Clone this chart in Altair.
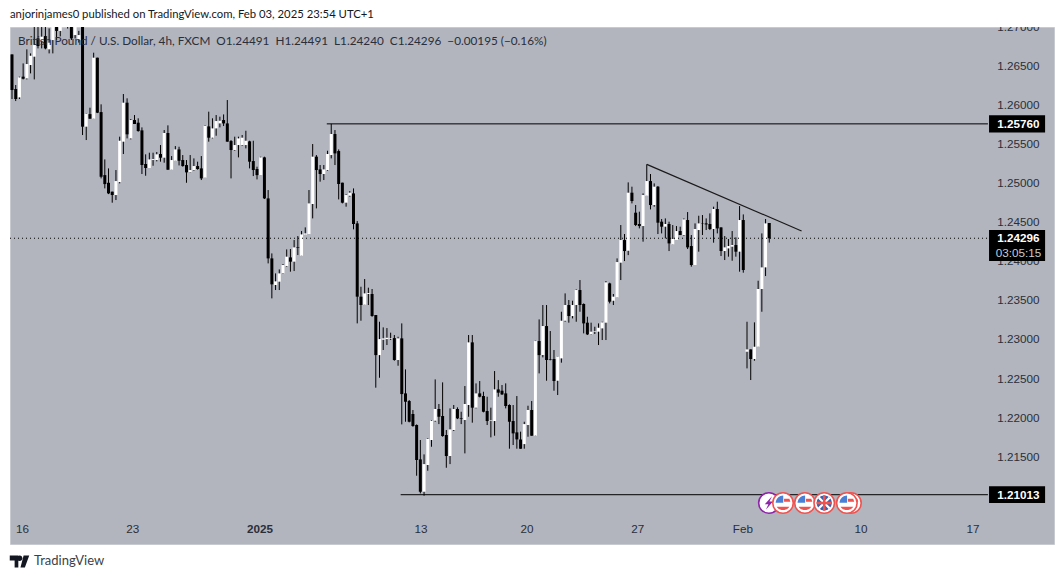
import altair as alt
import pandas as pd

# 4h GBPUSD bars (the first ones run above the top of the panel)
opens = [
    1.26649, 1.26206, 1.26099, 1.26364, 1.26342, 1.26513, 1.2662, 1.26854, 1.26824, 1.26884,
    1.26714, 1.26833, 1.2712, 1.2695, 1.2718, 1.2730, 1.2705, 1.26897, 1.26833, 1.2716,
    1.25724, 1.25885, 1.25826, 1.26607, 1.25911, 1.25104, 1.25006, 1.24892, 1.24849, 1.25015,
    1.25532, 1.26031, 1.25574, 1.25809, 1.25775, 1.25677, 1.25246, 1.25195, 1.25297, 1.25297,
    1.25374, 1.25327, 1.25643, 1.25173, 1.25288, 1.25433, 1.25297, 1.25233, 1.25143, 1.25169,
    1.2522, 1.2519, 1.25071, 1.25728, 1.25583, 1.25702, 1.25766, 1.25809, 1.25766, 1.2554,
    1.25425, 1.25489, 1.25489, 1.25489, 1.25536, 1.25284, 1.25182, 1.25104, 1.25331, 1.24806,
    1.24038, 1.23697, 1.2374, 1.23846, 1.2394, 1.24051, 1.23996, 1.24183, 1.24072, 1.24341,
    1.24349, 1.24734, 1.2534, 1.25177, 1.25118, 1.25169, 1.25361, 1.2563, 1.25412, 1.25007,
    1.24751, 1.2484, 1.2487, 1.24486, 1.23548, 1.23445, 1.23582, 1.23582, 1.23313, 1.228,
    1.22997, 1.23005, 1.2301, 1.23018, 1.22737, 1.23014, 1.2231, 1.22212, 1.22046, 1.21905,
    1.21465, 1.21051, 1.21393, 1.21713, 1.2196, 1.2211, 1.2202, 1.21777, 1.21508, 1.21841,
    1.2211, 1.2199, 1.21969, 1.22161, 1.22963, 1.22127, 1.2231, 1.22276, 1.22084, 1.21956,
    1.21956, 1.22361, 1.22344, 1.2231, 1.22161, 1.21956, 1.21811, 1.21721, 1.21661, 1.21905,
    1.22097, 1.21768, 1.2298, 1.22801, 1.23172, 1.22745, 1.2275, 1.22472, 1.22758, 1.2324,
    1.23441, 1.233, 1.23441, 1.23633, 1.23454, 1.23215, 1.23065, 1.231, 1.231, 1.23142,
    1.23215, 1.23718, 1.23496, 1.23539, 1.23983, 1.24273, 1.24136, 1.24879, 1.24623, 1.24478,
    1.24452, 1.2484, 1.25028, 1.24721, 1.24956, 1.24508, 1.24444, 1.24478, 1.24217, 1.24273,
    1.24388, 1.24337, 1.24529, 1.24196, 1.23953, 1.24401, 1.24486, 1.24486, 1.24478, 1.24414,
    1.2467, 1.24435, 1.24132, 1.24166, 1.24188, 1.24209, 1.24124, 1.24529, 1.22843, 1.22873,
    1.2275, 1.22907, 1.23646, 1.23923, 1.24491,
]
highs = [
    1.26649, 1.26257, 1.26364, 1.26534, 1.26714, 1.26662, 1.2715, 1.2715, 1.2712, 1.2718,
    1.26982, 1.2715, 1.2722, 1.2725, 1.2735, 1.2738, 1.2712, 1.2708, 1.2695, 1.2725,
    1.25894, 1.25967, 1.26671, 1.26607, 1.2601, 1.25305, 1.2519, 1.24892, 1.25169, 1.25596,
    1.26142, 1.26087, 1.25822, 1.25873, 1.25831, 1.25715, 1.2537, 1.25391, 1.25391, 1.254,
    1.25489, 1.25681, 1.25741, 1.25348, 1.25476, 1.25467, 1.25361, 1.25297, 1.25361, 1.25318,
    1.25276, 1.25348, 1.25745, 1.25916, 1.25831, 1.25873, 1.25852, 1.25881, 1.26065, 1.25553,
    1.25596, 1.25596, 1.25617, 1.25672, 1.25544, 1.25544, 1.25212, 1.2534, 1.2534, 1.24913,
    1.24102, 1.23846, 1.23897, 1.23966, 1.24153, 1.24158, 1.24273, 1.24324, 1.24388, 1.24435,
    1.24913, 1.25502, 1.25361, 1.25233, 1.25233, 1.25416, 1.2576, 1.25681, 1.25433, 1.25007,
    1.24858, 1.249, 1.24934, 1.24516, 1.23675, 1.23774, 1.23663, 1.23646, 1.23313, 1.23227,
    1.23155, 1.23146, 1.23087, 1.23057, 1.23035, 1.23206, 1.22617, 1.22225, 1.22097, 1.21913,
    1.21713, 1.21529, 1.21734, 1.21969, 1.22489, 1.22174, 1.22451, 1.21841, 1.22118, 1.22161,
    1.22131, 1.22075, 1.22404, 1.23057, 1.23057, 1.22438, 1.22468, 1.22331, 1.22267, 1.22127,
    1.22596, 1.2248, 1.22417, 1.22438, 1.2217, 1.22161, 1.22276, 1.2182, 1.21947, 1.22152,
    1.22212, 1.22984, 1.23257, 1.23441, 1.23441, 1.23108, 1.22865, 1.22779, 1.23355, 1.2359,
    1.23505, 1.23496, 1.23641, 1.23761, 1.23462, 1.23291, 1.23215, 1.23163, 1.23206, 1.23227,
    1.23748, 1.23727, 1.23582, 1.24038, 1.24465, 1.2435, 1.25011, 1.24956, 1.24721, 1.24636,
    1.2487, 1.25242, 1.25118, 1.24998, 1.24964, 1.24542, 1.2455, 1.24508, 1.24465, 1.24452,
    1.24444, 1.2455, 1.24631, 1.24337, 1.24486, 1.24584, 1.24593, 1.2455, 1.24614, 1.247,
    1.24764, 1.24435, 1.24324, 1.24286, 1.24388, 1.24307, 1.24708, 1.24601, 1.23227, 1.22873,
    1.23219, 1.23752, 1.24358, 1.24542, 1.24491,
]
lows = [
    1.26078, 1.26052, 1.26078, 1.26329, 1.26329, 1.26406, 1.26329, 1.26726, 1.26726, 1.26714,
    1.26662, 1.26662, 1.26833, 1.2688, 1.2705, 1.2698, 1.26833, 1.26854, 1.2680, 1.25617,
    1.25553, 1.25826, 1.25826, 1.25898, 1.25062, 1.24934, 1.24861, 1.24751, 1.24785, 1.24998,
    1.25374, 1.25574, 1.25561, 1.25758, 1.2566, 1.25118, 1.25096, 1.25195, 1.25224, 1.2528,
    1.25276, 1.25263, 1.25173, 1.25173, 1.25288, 1.25228, 1.25212, 1.25006, 1.25139, 1.2516,
    1.25173, 1.25041, 1.25071, 1.25532, 1.25574, 1.25608, 1.25715, 1.25732, 1.25532, 1.25062,
    1.25416, 1.25331, 1.2548, 1.25446, 1.2519, 1.25092, 1.25049, 1.25104, 1.24798, 1.23974,
    1.23526, 1.23633, 1.23633, 1.23838, 1.23932, 1.23868, 1.23876, 1.24081, 1.24072, 1.24341,
    1.24349, 1.2455, 1.24678, 1.2502, 1.25041, 1.2516, 1.25318, 1.25233, 1.24793, 1.24742,
    1.247, 1.24828, 1.2441, 1.23206, 1.2324, 1.23445, 1.23441, 1.23291, 1.22383, 1.2251,
    1.22865, 1.22929, 1.22993, 1.22728, 1.22664, 1.21913, 1.21947, 1.21939, 1.21883, 1.21256,
    1.2103, 1.21, 1.2132, 1.21627, 1.21947, 1.21917, 1.21755, 1.21358, 1.21405, 1.21828,
    1.21981, 1.21917, 1.21542, 1.22011, 1.21935, 1.22118, 1.22259, 1.22067, 1.21905, 1.21747,
    1.21768, 1.22267, 1.22289, 1.22118, 1.21602, 1.21649, 1.21602, 1.21602, 1.21602, 1.21755,
    1.21768, 1.21764, 1.22566, 1.22771, 1.22472, 1.22733, 1.22344, 1.22289, 1.22703, 1.23227,
    1.23215, 1.2327, 1.23227, 1.23355, 1.23078, 1.23057, 1.23057, 1.2307, 1.22929, 1.22993,
    1.22993, 1.23462, 1.23441, 1.23539, 1.23761, 1.24004, 1.2408, 1.24742, 1.24452, 1.24422,
    1.24252, 1.2484, 1.24665, 1.247, 1.2435, 1.24358, 1.24294, 1.24132, 1.24217, 1.24273,
    1.24337, 1.24328, 1.24158, 1.23932, 1.23953, 1.24124, 1.24337, 1.24401, 1.24401, 1.24239,
    1.24358, 1.24068, 1.24017, 1.2406, 1.24008, 1.2406, 1.23868, 1.23855, 1.2263, 1.22481,
    1.22728, 1.22907, 1.23355, 1.23812, 1.2424,
]
closes = [
    1.26193, 1.26078, 1.26355, 1.26338, 1.26526, 1.26632, 1.26769, 1.26756, 1.26876, 1.26726,
    1.26799, 1.2703, 1.2695, 1.2718, 1.2730, 1.2702, 1.26854, 1.2703, 1.26897, 1.25724,
    1.2589, 1.25826, 1.26607, 1.25903, 1.25083, 1.24989, 1.2487, 1.24849, 1.25028, 1.25544,
    1.26031, 1.25626, 1.25809, 1.25758, 1.25668, 1.25233, 1.25195, 1.25305, 1.25309, 1.2537,
    1.25327, 1.25643, 1.25173, 1.25297, 1.25433, 1.25288, 1.2522, 1.25139, 1.25169, 1.2522,
    1.25182, 1.25062, 1.25736, 1.25583, 1.25702, 1.25796, 1.258, 1.25766, 1.25532, 1.25425,
    1.25489, 1.25574, 1.25583, 1.25544, 1.25276, 1.25169, 1.25104, 1.25331, 1.24806, 1.24038,
    1.23706, 1.23744, 1.23846, 1.23953, 1.2406, 1.23996, 1.24179, 1.24175, 1.24345, 1.24358,
    1.24742, 1.2534, 1.25169, 1.25118, 1.25177, 1.25374, 1.2563, 1.25382, 1.2499, 1.24751,
    1.24849, 1.24879, 1.24478, 1.23548, 1.23441, 1.2359, 1.23594, 1.233, 1.228, 1.23005,
    1.23014, 1.23022, 1.23018, 1.22737, 1.23014, 1.22301, 1.22203, 1.21947, 1.21892, 1.21457,
    1.21051, 1.21405, 1.21726, 1.2196, 1.2211, 1.22011, 1.21764, 1.21508, 1.21849, 1.2211,
    1.2199, 1.21982, 1.22174, 1.22963, 1.22127, 1.2231, 1.22267, 1.22075, 1.21956, 1.21964,
    1.22361, 1.22319, 1.22297, 1.22148, 1.21947, 1.21798, 1.21721, 1.21602, 1.21917, 1.22097,
    1.21768, 1.2298, 1.228, 1.23172, 1.22737, 1.22737, 1.22468, 1.22779, 1.2324, 1.23441,
    1.233, 1.23441, 1.23633, 1.23441, 1.23206, 1.23065, 1.231, 1.23108, 1.2315, 1.23219,
    1.23731, 1.23484, 1.23548, 1.23991, 1.24273, 1.24132, 1.24879, 1.24772, 1.24465, 1.24452,
    1.24849, 1.25028, 1.24721, 1.24956, 1.24495, 1.24444, 1.24478, 1.2423, 1.24286, 1.24388,
    1.24337, 1.24537, 1.24179, 1.23953, 1.24414, 1.24486, 1.24482, 1.24473, 1.24414, 1.2467,
    1.24422, 1.24132, 1.24179, 1.24196, 1.24209, 1.24124, 1.24529, 1.23889, 1.22873, 1.2275,
    1.22907, 1.23646, 1.23923, 1.24486, 1.24296,
]

price_ticks = [1.27, 1.265, 1.26, 1.255, 1.25, 1.245, 1.24, 1.235, 1.23, 1.225, 1.22, 1.215]
date_bars = [2.8, 32.5, 110.2, 138.7, 168.6, 196.9, 228.7, 258.9]
date_labels = ["16", "23", "13", "20", "27", "Feb", "10", "17"]
year_bar = [66.8]
year_label = ["2025"]

top_level = 1.2576
bottom_level = 1.21013
last_close = 1.24296

gray = "#b2b5be"
dark = "#2a2e39"
font = "Liberation Sans"
header_font = "Lato"
num_size = 11.7

bars = pd.DataFrame({"bar": range(len(opens)), "open": opens, "high": highs, "low": lows, "close": closes})
bars["direction"] = ["up" if c >= o else "down" for o, c in zip(opens, closes)]

# padding=0: bars on a continuous x otherwise pull the scale inwards
x_scale = alt.Scale(domain=[-0.54, 280.7], nice=False, zero=False, padding=0)
y_scale = alt.Scale(domain=[1.20382, 1.27], nice=False, zero=False)
X = alt.X("bar:Q", scale=x_scale, axis=None)
Y = alt.Y("price:Q", scale=y_scale, axis=None)

wicks = alt.Chart(bars).mark_rule(color="black", strokeWidth=1, clip=True).encode(
    X, alt.Y("low:Q", scale=y_scale, axis=None), alt.Y2("high:Q")
)
bodies = alt.Chart(bars).mark_bar(size=3, clip=True).encode(
    X,
    alt.Y("open:Q", scale=y_scale, axis=None),
    alt.Y2("close:Q"),
    alt.Color("direction:N", scale=alt.Scale(domain=["up", "down"], range=["white", "black"]), legend=None),
)

price_labels = alt.Chart(pd.DataFrame({"bar": [265.4] * len(price_ticks), "price": price_ticks})).mark_text(
    align="left", font=font, fontSize=num_size, color=dark, clip=True
).encode(X, Y, alt.Text("price:Q", format=".5f"))

date_df = pd.DataFrame({"bar": date_bars, "price": [1.2058] * len(date_bars), "label": date_labels})
dates = alt.Chart(date_df).mark_text(font=font, fontSize=num_size, color=dark).encode(X, Y, text="label:N")
year_df = pd.DataFrame({"bar": year_bar, "price": [1.2058], "label": year_label})
year = alt.Chart(year_df).mark_text(font=font, fontSize=num_size, fontWeight="bold", color=dark).encode(X, Y, text="label:N")

# horizontal drawings and the dotted last price line
h_lines = pd.DataFrame({"bar": [84.8, 104.7], "bar2": [262.9, 262.9], "price": [top_level, bottom_level]})
levels = alt.Chart(h_lines).mark_rule(color="black", strokeWidth=1).encode(X, alt.X2("bar2:Q"), Y)
last_df = pd.DataFrame({"bar": [-0.54], "bar2": [262.9], "price": [last_close]})
last_line = alt.Chart(last_df).mark_rule(color="black", strokeWidth=1, strokeDash=[1, 3]).encode(X, alt.X2("bar2:Q"), Y)
trend_df = pd.DataFrame({"bar": [171.0, 212.7], "price": [1.25242, 1.24389]})
trend = alt.Chart(trend_df).mark_line(color="#1a1a1a", strokeWidth=1.2).encode(X, Y)

# black price tags on the right
tag_df = pd.DataFrame({
    "bar": [263.2, 263.2, 263.2], "bar2": [278.3, 278.3, 278.3],
    "price": [1.25869, 1.24401, 1.2112], "price2": [1.25651, 1.24005, 1.20906],
})
tags = alt.Chart(tag_df).mark_rect(color="black").encode(X, alt.X2("bar2:Q"), Y, alt.Y2("price2:Q"))
tag_text_df = pd.DataFrame({
    "bar": [265.4, 265.4, 265.4],
    "price": [top_level, 1.24296, bottom_level],
    "label": ["1.25760", "1.24296", "1.21013"],
})
tag_text = alt.Chart(tag_text_df).mark_text(align="left", font=font, fontSize=num_size, fontWeight="bold", color="white").encode(X, Y, text="label:N")
timer_df = pd.DataFrame({"bar": [265.0], "price": [1.2411], "label": ["03:05:15"]})
timer = alt.Chart(timer_df).mark_text(align="left", font=font, fontSize=num_size, color="#c9ccd4").encode(X, Y, text="label:N")


def pixel_text(label, x, y, size, color=dark):
    return alt.Chart(pd.DataFrame({"label": [label]})).mark_text(
        align="left", font=header_font, fontSize=size, color=color
    ).encode(x=alt.value(x), y=alt.value(y), text="label:N")


published = pixel_text("anjorinjames0 published on TradingView.com, Feb 03, 2025 23:54 UTC+1", 0, -12, 11.3, color="#131722")
gap = "\u00a0\u00a0"
legend_text = pixel_text(
    "British Pound / U.S. Dollar, 4h, FXCM" + gap + "O1.24491" + gap + "H1.24491" + gap + "L1.24240" + gap
    + "C1.24296" + gap + "\u22120.00195 (\u22120.16%)", 8, 14, 11.75
)
brand = pixel_text("TradingView", 24, 534, 13, color="#3c3f48")

logo_path = "M-1,-0.62 L-0.12,-0.62 L-0.12,0.62 L-0.5,0.62 L-0.5,-0.1 L-1,-0.1 Z M0.02,-0.62 A0.28,0.28 0 1 1 0.02,-0.06 A0.28,0.28 0 1 1 0.02,-0.62 Z M0.42,-0.62 L1,-0.62 L0.55,0.62 L0.1,0.62 Z"
logo = alt.Chart(pd.DataFrame({"k": [1]})).mark_point(
    shape=logo_path, filled=True, color="#131722", opacity=1, size=380, strokeWidth=0
).encode(x=alt.value(9.5), y=alt.value(534.5))

# calendar icons on the bottom of the chart
icon_price = 1.20907
ring_red = "#ef5350"
us_blue = "#4a7fd6"
uk_blue = "#3f5fa8"
purple = "#8e24aa"
icon_size = 420
us_canton = "M-0.72,-0.02 L0.02,-0.02 L0.02,-0.72 A0.75,0.75 0 0 0 -0.72,-0.02 Z"
us_stripes = "M0.1,-0.42 L0.62,-0.42 L0.72,-0.12 L0.1,-0.12 Z M-0.62,0.36 L0.62,0.36 A0.74,0.74 0 0 1 -0.62,0.36 Z"
uk_cross = "M-0.12,-0.75 L0.12,-0.75 L0.12,-0.12 L0.75,-0.12 L0.75,0.12 L0.12,0.12 L0.12,0.75 L-0.12,0.75 L-0.12,0.12 L-0.75,0.12 L-0.75,-0.12 L-0.12,-0.12 Z"
uk_saltire = "M-0.6,-0.45 L-0.45,-0.6 L0,-0.15 L0.45,-0.6 L0.6,-0.45 L0.15,0 L0.6,0.45 L0.45,0.6 L0,0.15 L-0.45,0.6 L-0.6,0.45 L-0.15,0 Z"
bolt = "M0.3,-0.65 L-0.4,0.12 L-0.05,0.12 L-0.3,0.65 L0.4,-0.15 L0.05,-0.15 Z"


def icon_layers(bar, kind):
    df = pd.DataFrame({"bar": [bar], "price": [icon_price]})
    base = alt.Chart(df)
    ring_color = purple if kind == "event" else ring_red
    parts = [
        base.mark_point(shape="circle", filled=True, color="white", stroke=ring_color, strokeWidth=1.6,
                        size=icon_size, opacity=1).encode(X, Y)
    ]
    if kind == "us":
        pieces = [(us_canton, us_blue), (us_stripes, ring_red)]
    elif kind == "uk":
        parts.append(base.mark_point(shape="circle", filled=True, color=uk_blue, strokeWidth=0, size=230, opacity=1).encode(X, Y))
        pieces = [(uk_saltire, "white"), (uk_cross, ring_red)]
    else:
        pieces = [(bolt, purple)]
    for path, color in pieces:
        parts.append(base.mark_point(shape=path, filled=True, color=color, strokeWidth=0, size=icon_size, opacity=1).encode(X, Y))
    return parts


icon_bars = [203.9, 207.7, 213.6, 218.8, 226.0, 224.9]
icon_kinds = ["event", "us", "us", "uk", "us", "us"]
icons = []
for b, k in zip(icon_bars, icon_kinds):
    icons += icon_layers(b, k)

chart = alt.layer(
    price_labels, dates, year, wicks, bodies, last_line, levels, trend,
    *icons, tags, tag_text, timer, legend_text, published, brand, logo
).properties(
    width=1044, height=517,
    padding={"left": 2, "top": 19, "right": 2, "bottom": 27},
    autosize=alt.AutoSizeParams(type="none"),
).configure_view(fill=gray, stroke="#c8cad1", strokeWidth=1)

chart.save("out.html", embed_options={"renderer": "svg", "actions": False})
